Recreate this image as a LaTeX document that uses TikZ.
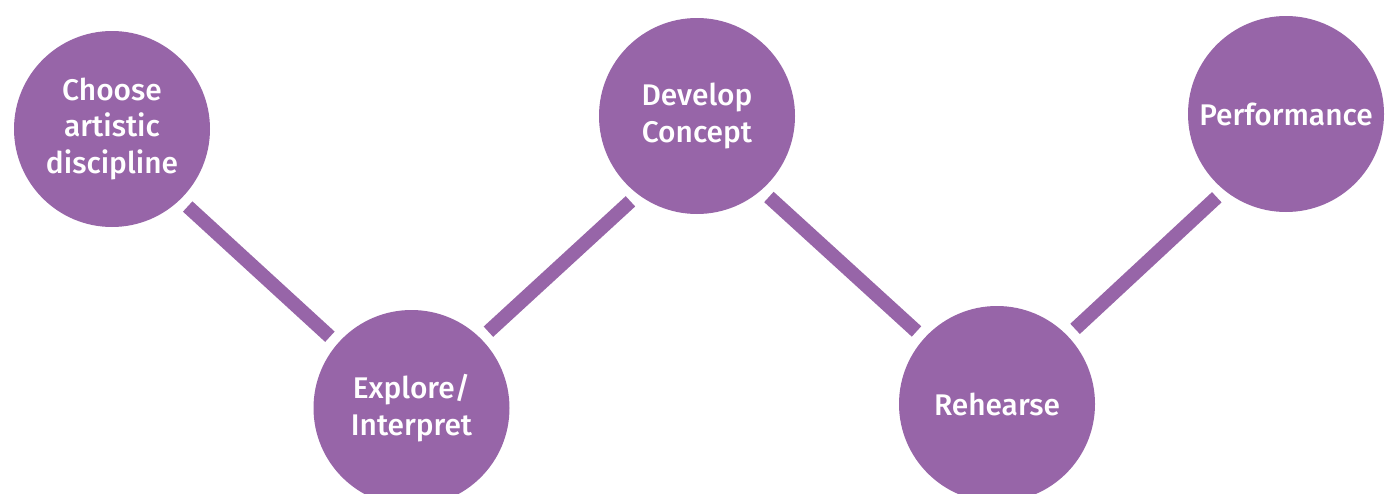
\documentclass[tikz,border=0pt]{standalone}
\usepackage{fontspec}
\setmainfont{Open Sans}
\newfontfamily\stagefont{Fira Sans Medium}
\usepackage{tikz}
\definecolor{stagepurple}{RGB}{151,101,168}
\tikzset{
  stage/.style={circle, fill=stagepurple, minimum size=3.92cm, inner sep=0pt,
    align=center, text=white, font=\fontsize{17}{21}\stagefont},
  link/.style={stagepurple, line width=0.28cm, shorten <=0.2cm, shorten >=0.2cm}
}
\begin{document}
\begin{tikzpicture}
                      \useasboundingbox (0,0) rectangle (27.94,9.86);
                      \clip (0,0) rectangle (27.94,9.86);
                      \node [stage] (choose) at (2.24,7.28) {Choose\\artistic\\discipline};
                      \node [stage] (explore) at (8.23,1.70) {Explore/\\Interpret};
                      \node [stage] (develop) at (13.94,7.54) {Develop\\Concept};
                      \node [stage] (rehearse) at (19.94,1.78) {Rehearse};
                      \node [stage] (perform) at (25.72,7.58) {Performance};
                      \draw [link] (choose.-46) -- (explore.139);
                      \draw [link] (explore.45) -- (develop.-127);
                      \draw [link] (develop.-49) -- (rehearse.138);
                      \draw [link] (rehearse.44) -- (perform.-129);
                  \end{tikzpicture}
\end{document}
